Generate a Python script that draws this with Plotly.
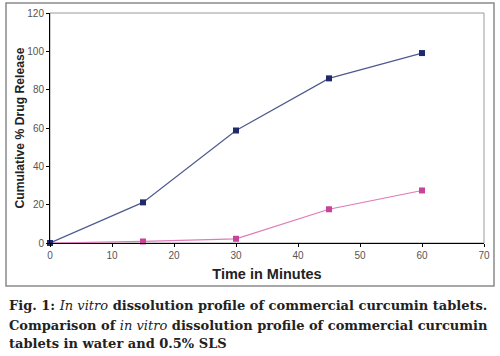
import plotly.graph_objects as go

time_min = [0, 15, 30, 45, 60]
release_sls = [0, 21.2, 58.7, 85.9, 99.1]
release_water = [0, 0.8, 2.2, 17.6, 27.4]
x_ticks = [0, 10, 20, 30, 40, 50, 60, 70]
y_ticks = [0, 20, 40, 60, 80, 100, 120]

L, R, T, B = 50, 16, 13, 113
W, H = 500, 356
pw, ph = W - L - R, H - T - B

def px(x):
    return (x - L) / pw

def py(y):
    return (H - B - y) / ph

fig = go.Figure()
fig.add_trace(go.Scatter(x=time_min, y=release_water, mode="lines+markers",
                         line=dict(color="#E07AB8", width=1.2),
                         marker=dict(symbol="square", size=6, color="#C8449A"),
                         showlegend=False, cliponaxis=False))
fig.add_trace(go.Scatter(x=time_min, y=release_sls, mode="lines+markers",
                         line=dict(color="#4E5A8E", width=1.2),
                         marker=dict(symbol="square", size=6, color="#1E2A6A"),
                         showlegend=False, cliponaxis=False))

shapes = [
    dict(type="rect", xref="paper", yref="paper", x0=px(6), x1=px(494), y0=py(286), y1=py(3),
         line=dict(color="#8a8a8a", width=1.5), layer="below"),
    dict(type="rect", xref="paper", yref="paper", x0=0, x1=1, y0=0, y1=1,
         line=dict(color="#9a9a9a", width=1), layer="below"),
]

cap_font = dict(family="DejaVu Serif, serif", size=13, color="#222")
caption = [
    "<b>Fig. 1: </b><i>In vitro</i><b> dissolution profile of commercial curcumin tablets.</b>",
    "<b>Comparison of </b><i>in vitro</i><b> dissolution profile of commercial curcumin</b>",
    "<b>tablets in water and 0.5% SLS</b>",
]
cap_y = [305, 325, 343]
annotations = []
for txt, yy in zip(caption, cap_y):
    annotations.append(dict(text=txt, xref="paper", yref="paper", x=px(7), y=py(yy),
                            xanchor="left", yanchor="middle", showarrow=False, font=cap_font))

axis_font = dict(family="Arial, Liberation Sans, sans-serif", size=10, color="#555")
fig.update_layout(
    width=W, height=H, margin=dict(l=L, r=R, t=T, b=B),
    paper_bgcolor="white", plot_bgcolor="white",
    shapes=shapes, annotations=annotations,
    xaxis=dict(range=[0, 70], tickvals=x_ticks, showgrid=False, zeroline=False,
               showline=True, linecolor="black", linewidth=1, ticks="outside",
               ticklen=3, tickcolor="black", tickfont=axis_font, automargin=False,
               title=dict(text="<b>Time in Minutes</b>", standoff=8,
                          font=dict(family="Arial, Liberation Sans, sans-serif", size=14.5, color="#222"))),
    yaxis=dict(range=[0, 120], tickvals=y_ticks, showgrid=False, zeroline=False,
               showline=True, linecolor="black", linewidth=1, ticks="outside",
               ticklen=3, tickcolor="black", tickfont=axis_font, automargin=False,
               title=dict(text="<b>Cumulative % Drug Release</b>", standoff=0,
                          font=dict(family="Arial, Liberation Sans, sans-serif", size=12.2, color="#222"))),
)
fig.write_html("out.html", config={"displayModeBar": False},
               post_script="document.body.style.margin='0';document.body.style.overflow='hidden';")
